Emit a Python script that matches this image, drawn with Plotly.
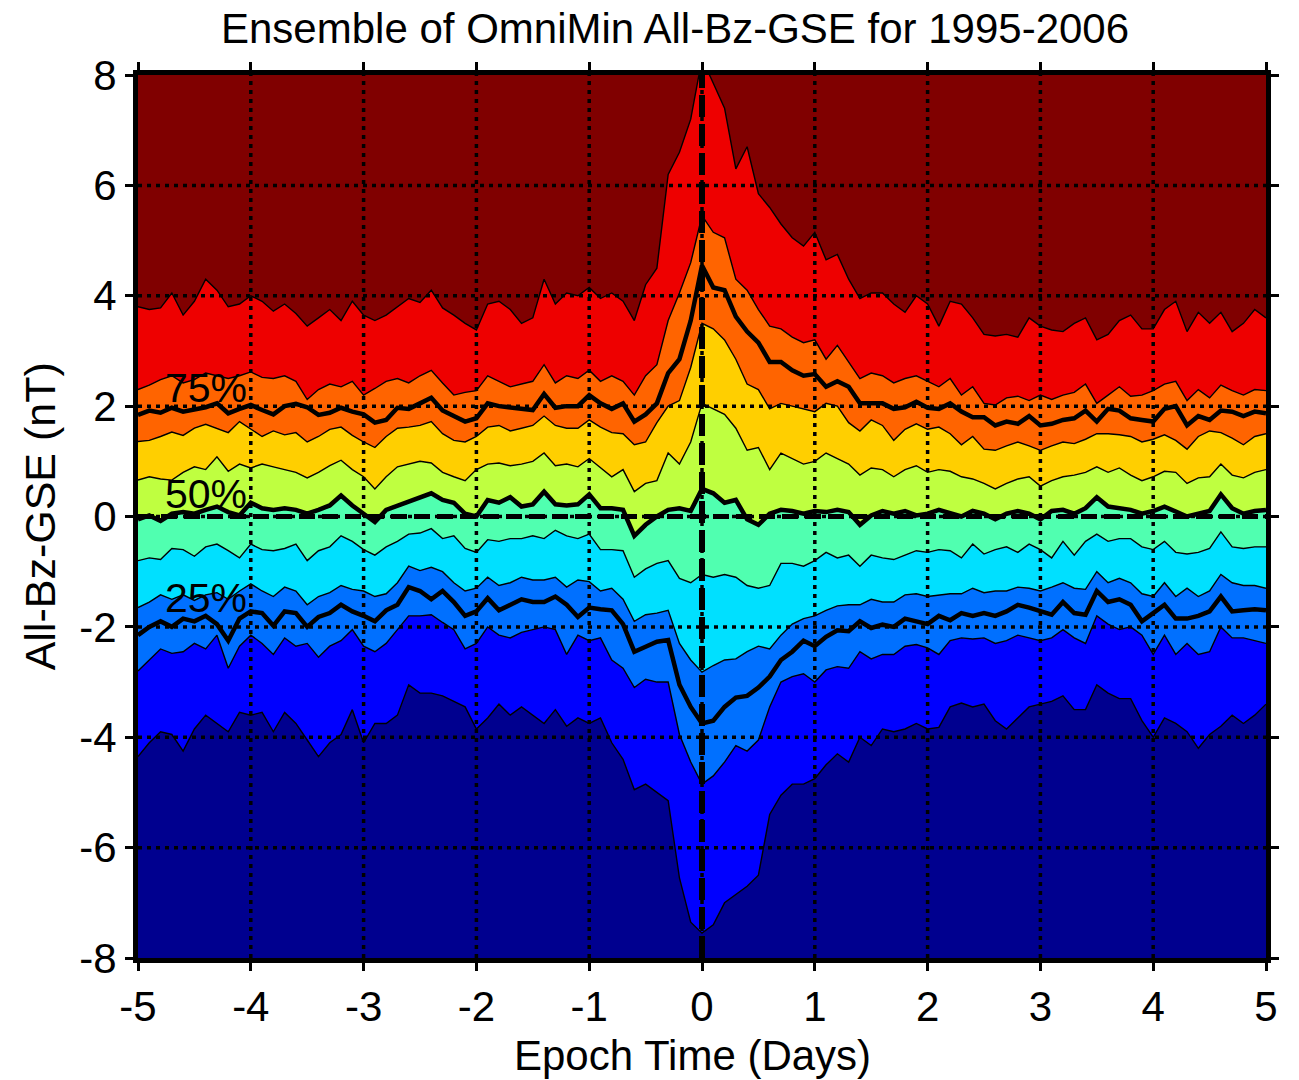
import numpy as np
import plotly.graph_objects as go

# Epoch time grid (days)
t = np.round(np.linspace(-5, 5, 101), 2)

# Percentile curves of Bz-GSE (nT)
p90 = [3.80, 3.75, 3.78, 4.05, 3.65, 3.9, 4.3, 4.1, 3.8, 3.85, 4.0, 3.9, 3.72, 3.85, 3.68, 3.45, 3.6, 3.75, 3.55, 3.9,
       3.65, 3.55, 3.65, 3.8, 3.95, 3.88, 4.1, 3.78, 3.65, 3.5, 3.38, 3.85, 3.9, 3.75,
       3.5, 3.6, 4.3, 3.85, 4.05, 4.0, 4.15, 3.95, 4.05, 3.9, 3.55, 4.2, 4.5, 6.2, 6.6, 7.2, 8.3,
       7.85, 7.4, 6.3, 6.7, 5.85, 5.6, 5.3, 5.05, 4.9, 5.15, 4.65, 4.75, 4.3, 3.95, 4.05, 4.05,
       3.85, 3.7, 4.0, 3.85, 3.45, 3.9, 3.85, 3.6, 3.3, 3.27, 3.3, 3.25, 3.6, 3.45, 3.38, 3.35, 3.5,
       3.6, 3.2, 3.3, 3.55, 3.65, 3.4, 3.4, 3.75, 3.9, 3.35, 3.7, 3.5, 3.7, 3.35, 3.5, 3.75, 3.6]
p80 = [2.3, 2.38, 2.48, 2.55, 2.42, 2.48, 2.6, 2.55, 2.5, 2.55, 2.62, 2.52, 2.5, 2.55, 2.45, 2.12, 2.3, 2.4, 2.35, 2.45,
       2.2, 2.32, 2.45, 2.5, 2.42, 2.55, 2.65, 2.42, 2.2, 2.25, 2.28, 2.55, 2.45, 2.35,
       2.4, 2.45, 2.75, 2.42, 2.55, 2.5, 2.65, 2.45, 2.55, 2.45, 2.2, 2.55, 2.75, 3.55, 4.05, 4.6, 5.45,
       5.15, 5.05, 4.3, 4.1, 3.75, 3.45, 3.4, 3.25, 3.15, 3.2, 2.85, 3.1, 2.8, 2.5, 2.6, 2.55,
       2.42, 2.5, 2.55, 2.45, 2.35, 2.5, 2.2, 2.35, 2.05, 2.02, 2.15, 2.18, 2.1, 2.2, 2.12, 2.2, 2.25,
       2.4, 2.05, 2.2, 2.35, 2.18, 2.2, 2.28, 2.4, 2.45, 2.1, 2.3, 2.15, 2.38, 2.28, 2.2, 2.3, 2.28]
p75 = [1.84, 1.92, 1.88, 1.97, 1.9, 1.93, 1.98, 2.05, 1.87, 1.95, 2.02, 1.93, 1.85, 2.0, 2.04, 1.98, 1.84, 1.88, 1.97, 1.9,
       1.85, 1.7, 1.75, 1.97, 1.95, 2.05, 2.15, 1.92, 1.83, 1.72, 1.78, 2.05, 2.0, 1.97,
       1.95, 1.93, 2.22, 1.97, 2.0, 2.0, 2.2, 2.05, 1.95, 2.05, 1.72, 1.85, 2.05, 2.6, 2.85, 3.55, 4.55,
       4.15, 4.1, 3.62, 3.35, 3.15, 2.8, 2.8, 2.65, 2.55, 2.58, 2.35, 2.45, 2.35, 2.05, 2.05, 2.05,
       1.95, 1.98, 2.08, 1.97, 1.95, 2.05, 1.9, 1.8, 1.8, 1.65, 1.72, 1.68, 1.82, 1.65, 1.68, 1.75, 1.78,
       1.92, 1.72, 1.95, 1.92, 1.78, 1.75, 1.72, 1.95, 2.0, 1.65, 1.82, 1.75, 1.92, 1.9, 1.82, 1.9, 1.87]
p70 = [1.36, 1.38, 1.45, 1.53, 1.47, 1.6, 1.67, 1.6, 1.52, 1.72, 1.58, 1.45, 1.55, 1.48, 1.52, 1.35, 1.45, 1.58, 1.62, 1.47,
       1.35, 1.25, 1.45, 1.6, 1.62, 1.65, 1.72, 1.5, 1.38, 1.35, 1.45, 1.62, 1.65, 1.55,
       1.6, 1.65, 1.82, 1.65, 1.6, 1.6, 1.75, 1.62, 1.52, 1.5, 1.3, 1.35, 1.7, 2.0, 2.1, 2.7, 3.5,
       3.4, 3.2, 2.85, 2.4, 2.3, 1.95, 2.05, 2.0, 1.95, 1.9, 2.05, 2.0, 1.7, 1.55, 1.75, 1.65,
       1.38, 1.58, 1.68, 1.58, 1.62, 1.5, 1.3, 1.45, 1.22, 1.2, 1.28, 1.35, 1.28, 1.2, 1.28, 1.35, 1.32,
       1.4, 1.5, 1.5, 1.48, 1.45, 1.35, 1.4, 1.48, 1.38, 1.22, 1.45, 1.55, 1.52, 1.42, 1.3, 1.45, 1.5]
p60 = [0.66, 0.72, 0.68, 0.66, 0.8, 0.9, 0.85, 1.08, 0.82, 0.95, 0.88, 0.95, 0.9, 0.85, 0.8, 0.7, 0.8, 0.92, 1.02, 0.85,
       0.72, 0.5, 0.72, 0.9, 0.95, 1.0, 0.97, 0.8, 0.72, 0.65, 0.85, 0.95, 0.97, 0.92,
       0.95, 1.0, 1.15, 0.92, 0.95, 0.9, 1.05, 0.88, 0.72, 0.85, 0.45, 0.6, 0.65, 1.15, 0.95, 1.35, 2.05,
       1.95, 1.85, 1.6, 1.2, 1.25, 0.85, 1.15, 1.05, 0.95, 1.0, 1.15, 1.05, 0.95, 0.75, 0.88, 0.85,
       0.72, 0.85, 0.92, 0.8, 0.85, 0.82, 0.72, 0.68, 0.6, 0.5, 0.6, 0.68, 0.72, 0.55, 0.65, 0.72, 0.75,
       0.8, 0.9, 0.8, 0.88, 0.75, 0.65, 0.72, 0.82, 0.8, 0.6, 0.7, 0.72, 0.95, 0.75, 0.7, 0.8, 0.85]
p50 = [-0.05, 0.02, -0.08, 0.05, 0.08, 0.05, 0.12, 0.18, 0.08, 0.02, 0.25, 0.15, 0.12, 0.15, 0.12, 0.05, 0.12, 0.2, 0.38, 0.2,
       0.05, -0.1, 0.12, 0.2, 0.28, 0.35, 0.42, 0.3, 0.25, 0.05, 0.0, 0.3, 0.25, 0.35,
       0.18, 0.22, 0.45, 0.22, 0.2, 0.22, 0.4, 0.15, 0.15, 0.12, -0.35, -0.15, 0.0, 0.12, 0.15, 0.1, 0.5,
       0.42, 0.25, 0.3, -0.05, -0.15, 0.05, 0.12, 0.1, 0.05, 0.1, 0.08, 0.12, 0.08, -0.15, 0.02, 0.1,
       0.05, 0.1, 0.02, 0.05, 0.12, 0.05, 0.0, 0.1, 0.05, -0.05, 0.05, 0.1, 0.05, -0.05, 0.1, 0.12, 0.05,
       0.15, 0.35, 0.18, 0.15, 0.12, 0.05, 0.1, 0.18, 0.1, 0.0, 0.05, 0.1, 0.4, 0.15, 0.05, 0.1, 0.12]
p40 = [-0.8, -0.75, -0.78, -0.58, -0.6, -0.72, -0.55, -0.5, -0.62, -0.75, -0.5, -0.6, -0.62, -0.58, -0.5, -0.8, -0.62, -0.55, -0.35, -0.45,
       -0.6, -0.7, -0.55, -0.45, -0.32, -0.3, -0.22, -0.4, -0.35, -0.58, -0.65, -0.42, -0.45, -0.4,
       -0.4, -0.35, -0.4, -0.25, -0.35, -0.4, -0.32, -0.6, -0.6, -0.62, -1.1, -0.95, -0.85, -0.8, -1.12, -1.2, -1.05,
       -1.1, -1.05, -1.1, -1.25, -1.3, -1.25, -0.85, -0.85, -0.9, -0.8, -0.65, -0.75, -0.7, -0.9, -0.7, -0.75,
       -0.78, -0.7, -0.62, -0.65, -0.6, -0.62, -0.75, -0.5, -0.68, -0.6, -0.55, -0.65, -0.5, -0.6, -0.75, -0.45, -0.7,
       -0.45, -0.32, -0.45, -0.4, -0.4, -0.55, -0.6, -0.45, -0.65, -0.68, -0.65, -0.58, -0.28, -0.55, -0.58, -0.55, -0.55]
p30 = [-1.65, -1.55, -1.42, -1.5, -1.42, -1.52, -1.42, -1.38, -1.5, -1.35, -1.22, -1.35, -1.45, -1.28, -1.35, -1.6, -1.45, -1.38, -1.25, -1.32,
       -1.35, -1.45, -1.4, -1.2, -0.9, -0.98, -0.92, -1.0, -1.2, -1.35, -1.3, -1.1, -1.25, -1.2,
       -1.1, -1.15, -1.15, -1.1, -1.28, -1.15, -1.18, -1.35, -1.3, -1.5, -1.9, -1.78, -1.75, -1.7, -2.3, -2.6, -2.82,
       -2.7, -2.6, -2.58, -2.45, -2.35, -2.4, -2.15, -1.95, -1.85, -1.8, -1.7, -1.62, -1.6, -1.6, -1.5, -1.55,
       -1.55, -1.42, -1.4, -1.45, -1.42, -1.4, -1.4, -1.3, -1.38, -1.35, -1.35, -1.28, -1.3, -1.35, -1.28, -1.2, -1.3,
       -1.32, -1.0, -1.2, -1.12, -1.2, -1.4, -1.45, -1.2, -1.45, -1.3, -1.45, -1.35, -1.05, -1.2, -1.25, -1.25, -1.3]
p25 = [-2.15, -2.0, -1.9, -2.0, -1.85, -1.9, -1.8, -1.95, -2.25, -1.85, -1.72, -1.75, -1.98, -1.72, -1.75, -2.0, -1.82, -1.75, -1.6, -1.72,
       -1.8, -1.9, -1.7, -1.6, -1.28, -1.35, -1.5, -1.35, -1.55, -1.8, -1.72, -1.48, -1.7, -1.6,
       -1.5, -1.55, -1.55, -1.45, -1.6, -1.82, -1.65, -1.68, -1.7, -1.95, -2.45, -2.36, -2.27, -2.24, -3.05, -3.45, -3.75,
       -3.7, -3.45, -3.28, -3.25, -3.1, -2.9, -2.6, -2.45, -2.25, -2.35, -2.18, -2.06, -2.08, -1.9, -2.02, -1.96,
       -2.0, -1.85, -1.9, -1.95, -1.8, -1.88, -1.75, -1.8, -1.75, -1.8, -1.72, -1.6, -1.65, -1.72, -1.78, -1.55, -1.75,
       -1.78, -1.35, -1.55, -1.5, -1.6, -1.9, -1.75, -1.6, -1.85, -1.85, -1.8, -1.72, -1.45, -1.72, -1.7, -1.68, -1.7]
p20 = [-2.8, -2.6, -2.4, -2.48, -2.45, -2.3, -2.4, -2.15, -2.75, -2.35, -2.15, -2.3, -2.5, -2.2, -2.35, -2.3, -2.55, -2.35, -2.25, -2.05,
       -2.35, -2.45, -2.3, -2.05, -1.8, -1.8, -1.78, -1.92, -2.05, -2.4, -2.3, -2.0, -2.15, -2.2,
       -2.1, -2.05, -2.0, -2.05, -2.5, -2.15, -2.25, -2.2, -2.6, -2.75, -3.1, -2.95, -3.0, -3.0, -3.95, -4.45, -4.85,
       -4.7, -4.45, -4.15, -4.25, -4.05, -3.45, -3.0, -2.9, -2.85, -3.0, -2.78, -2.72, -2.75, -2.45, -2.58, -2.5,
       -2.5, -2.35, -2.32, -2.38, -2.5, -2.25, -2.2, -2.22, -2.2, -2.3, -2.25, -2.15, -2.2, -2.25, -2.2, -2.05, -2.2,
       -2.3, -1.8, -1.95, -2.05, -2.0, -2.15, -2.5, -2.15, -2.5, -2.3, -2.5, -2.45, -2.0, -2.2, -2.2, -2.25, -2.3]
p10 = [-4.35, -4.1, -3.9, -3.95, -4.25, -3.85, -3.6, -3.75, -3.9, -3.55, -3.6, -3.55, -3.9, -3.55, -3.75, -4.05, -4.35, -4.1, -3.95, -3.5,
       -4.1, -3.75, -3.75, -3.6, -3.05, -3.2, -3.2, -3.25, -3.35, -3.45, -3.85, -3.65, -3.4, -3.6,
       -3.45, -3.6, -3.75, -3.5, -3.8, -3.65, -3.75, -3.65, -4.1, -4.4, -4.95, -4.85, -5.0, -5.15, -6.55, -7.35, -7.55,
       -7.4, -7.0, -6.85, -6.7, -6.5, -5.4, -5.05, -4.85, -4.85, -4.75, -4.5, -4.3, -4.45, -4.0, -4.15, -3.85,
       -3.9, -3.85, -3.75, -3.85, -3.82, -3.45, -3.38, -3.45, -3.4, -3.7, -3.85, -3.65, -3.45, -3.4, -3.35, -3.25, -3.5,
       -3.5, -3.05, -3.2, -3.3, -3.3, -3.7, -4.0, -3.65, -3.75, -3.9, -4.2, -3.95, -3.8, -3.6, -3.75, -3.6, -3.4]

x_ticks = [-5, -4, -3, -2, -1, 0, 1, 2, 3, 4, 5]
y_ticks = [-8, -6, -4, -2, 0, 2, 4, 6, 8]
X_RANGE = [-5, 5]
Y_RANGE = [-8, 8]

# Band boundaries (bottom to top) and fill colour of the band below each boundary
bands = [
    (p10, "#00008F"),
    (p20, "#0000FF"),
    (p30, "#0070FF"),
    (p40, "#00E0FF"),
    (p50, "#50FFB0"),
    (p60, "#BFFF40"),
    (p70, "#FFCF00"),
    (p80, "#FF6400"),
    (p90, "#EE0000"),
]
TOP_COLOR = "#800000"

FONT = "Liberation Sans, Arial, Helvetica, sans-serif"

fig = go.Figure()
fig.add_trace(go.Scatter(x=t, y=[Y_RANGE[0] - 1] * len(t), mode="lines",
                         line=dict(width=0), hoverinfo="skip", showlegend=False))
for vals, col in bands:
    fig.add_trace(go.Scatter(x=t, y=vals, mode="lines", fill="tonexty", fillcolor=col,
                             line=dict(color="black", width=1.4), showlegend=False))

for vals in (p25, p50, p75):
    fig.add_trace(go.Scatter(x=t, y=vals, mode="lines",
                             line=dict(color="black", width=4.5), showlegend=False))

shapes = []
for xv in x_ticks[1:-1]:
    shapes.append(dict(type="line", xref="x", yref="y", x0=xv, x1=xv, y0=Y_RANGE[0], y1=Y_RANGE[1],
                       line=dict(color="black", width=3.5, dash="4px,5px"), layer="above"))
for yv in y_ticks[1:-1]:
    shapes.append(dict(type="line", xref="x", yref="y", x0=X_RANGE[0], x1=X_RANGE[1], y0=yv, y1=yv,
                       line=dict(color="black", width=3.5, dash="4px,5px"), layer="above"))
shapes.append(dict(type="line", xref="x", yref="y", x0=0, x1=0, y0=Y_RANGE[0], y1=Y_RANGE[1],
                   line=dict(color="black", width=6, dash="22px,7px"), layer="above"))
shapes.append(dict(type="line", xref="x", yref="y", x0=X_RANGE[0], x1=X_RANGE[1], y0=0, y1=0,
                   line=dict(color="black", width=5, dash="16px,7px"), layer="above"))

annotations = []
for txt, yv in (("75%", 2.33), ("50%", 0.41), ("25%", -1.48)):
    annotations.append(dict(x=-4.78, y=yv, xref="x", yref="y", text=txt, showarrow=False,
                            xanchor="left", yanchor="middle",
                            font=dict(family=FONT, size=41, color="black")))
annotations.append(dict(x=0.492, y=-0.11, xref="paper", yref="paper", text="Epoch Time (Days)",
                        showarrow=False, xanchor="center", yanchor="middle",
                        font=dict(family=FONT, size=42, color="black")))
annotations.append(dict(x=-0.087, y=0.5, xref="paper", yref="paper", text="All-Bz-GSE (nT)",
                        showarrow=False, textangle=-90, xanchor="center", yanchor="middle",
                        font=dict(family=FONT, size=43, color="black")))
annotations.append(dict(x=0.476, y=1.053, xref="paper", yref="paper",
                        text="Ensemble of OmniMin All-Bz-GSE for 1995-2006",
                        showarrow=False, xanchor="center", yanchor="middle",
                        font=dict(family=FONT, size=42, color="black")))

axis_common = dict(showline=True, linewidth=5, linecolor="black", mirror="ticks",
                   ticks="outside", ticklen=8, tickwidth=3, tickcolor="black",
                   showgrid=False, zeroline=False,
                   tickfont=dict(family=FONT, size=42, color="black"))

fig.update_layout(
    width=1299, height=1080,
    margin=dict(l=138, r=33, t=75, b=122),
    paper_bgcolor="white",
    plot_bgcolor=TOP_COLOR,
    xaxis=dict(range=X_RANGE, tickvals=x_ticks, ticktext=[str(v) for v in x_ticks], **axis_common),
    yaxis=dict(range=Y_RANGE, tickvals=y_ticks, ticktext=[str(v) for v in y_ticks], **axis_common),
    shapes=shapes,
    annotations=annotations,
    showlegend=False,
)

fig.write_html("out.html")
